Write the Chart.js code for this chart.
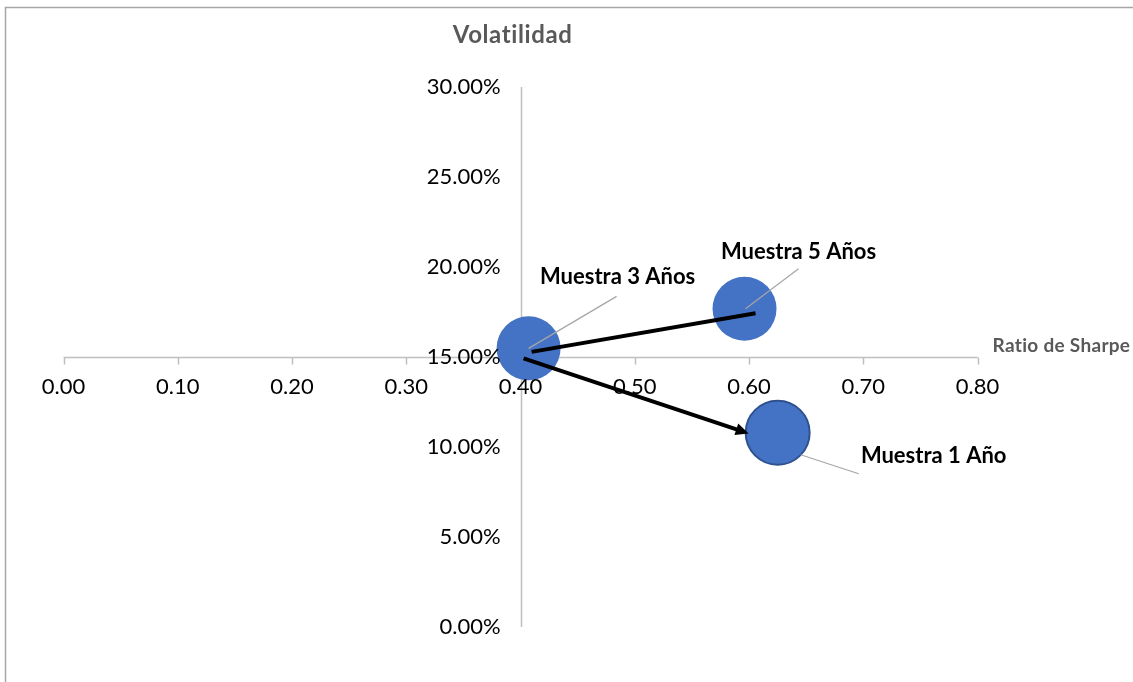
<!DOCTYPE html>
<html>
<head>
<meta charset="utf-8">
<script src="https://cdn.jsdelivr.net/npm/chart.js@4.4.1/dist/chart.umd.min.js"></script>
<style>
  html, body { margin: 0; padding: 0; background: #ffffff; }
  #wrap { width: 1133px; height: 682px; position: relative; }
</style>
</head>
<body>
<div id="wrap"><canvas id="chart" width="1133" height="682"></canvas></div>
<script>
// Samples: Sharpe ratio vs. volatility
const seriesNames = ['Muestra 3 Años', 'Muestra 5 Años', 'Muestra 1 Año'];
const sharpeRatio = [0.407, 0.596, 0.625];
const volatility = [0.1548, 0.1768, 0.1079];
const bubbleSize = [1, 1, 1];

const xTickValues = [0, 0.1, 0.2, 0.3, 0.4, 0.5, 0.6, 0.7, 0.8];
const xTickLabels = ['0.00', '0.10', '0.20', '0.30', '0.40', '0.50', '0.60', '0.70', '0.80'];
const yTickValues = [0, 0.05, 0.10, 0.15, 0.20, 0.25, 0.30];
const yTickLabels = ['0.00%', '5.00%', '10.00%', '15.00%', '20.00%', '25.00%', '30.00%'];

const xAxisTitle = 'Ratio de Sharpe';
const yAxisTitle = 'Volatilidad';
const xCrossAt = 0.15;   // horizontal axis crosses the vertical one at 15 %
const yCrossAt = 0.40;   // vertical axis crosses at a Sharpe ratio of 0.40

// Styling
const FONT = 'Lato, "Open Sans", sans-serif';
const BUBBLE_R = 32;
const BUBBLE_FILL = '#4472c4';
const AXIS_COLOR = '#bfbfbf';
const TITLE_COLOR = '#595959';

// Label placement (pixel offsets from each bubble centre)
const labelOffsets = [[89, -64], [54, -50], [156, 30]];
const leaderLines = [
  [[0, 0], [88, -52]],
  [[1, 0], [54, -40]],
  [[23, 22], [81, 41]]
];
// Arrows between samples: [fromIndex, fromOffset, toIndex, toOffset, arrowhead]
const arrows = [
  [0, [3, 3.5], 1, [11, 4.5], false],
  [0, [-5, 10], 2, [-29, 0.6], true]
];

const decorations = {
  id: 'decorations',
  beforeDraw(chart) {
    const ctx = chart.ctx;
    ctx.save();
    ctx.fillStyle = '#ffffff';
    ctx.fillRect(0, 0, chart.width, chart.height);
    ctx.strokeStyle = '#a6a6a6';
    ctx.lineWidth = 1.5;
    ctx.beginPath();
    ctx.moveTo(5.5, chart.height + 2);
    ctx.lineTo(5.5, 7.5);
    ctx.lineTo(chart.width + 2, 7.5);
    ctx.stroke();
    ctx.restore();
  },
  beforeDatasetsDraw(chart) {
    const ctx = chart.ctx;
    const xs = chart.scales.x, ys = chart.scales.y;
    const yLine = Math.round(ys.getPixelForValue(xCrossAt)) + 0.5;
    const xLine = Math.round(xs.getPixelForValue(yCrossAt)) + 0.5;
    ctx.save();
    ctx.strokeStyle = AXIS_COLOR;
    ctx.lineWidth = 1.5;
    ctx.beginPath();
    ctx.moveTo(xs.getPixelForValue(xs.min), yLine);
    ctx.lineTo(xs.getPixelForValue(xs.max), yLine);
    xTickValues.forEach(v => {
      const px = Math.round(xs.getPixelForValue(v)) + 0.5;
      ctx.moveTo(px, yLine);
      ctx.lineTo(px, yLine + 7);
    });
    ctx.moveTo(xLine, ys.getPixelForValue(ys.min));
    ctx.lineTo(xLine, ys.getPixelForValue(ys.max));
    ctx.stroke();
    ctx.restore();
  },
  afterDatasetsDraw(chart) {
    const ctx = chart.ctx;
    const xs = chart.scales.x, ys = chart.scales.y;
    const yLine = ys.getPixelForValue(xCrossAt);
    const xLine = xs.getPixelForValue(yCrossAt);
    const pts = chart.getDatasetMeta(0).data;
    ctx.save();

    // tick labels
    ctx.fillStyle = '#000000';
    ctx.font = '22px ' + FONT;
    ctx.textAlign = 'center';
    ctx.textBaseline = 'middle';
    xTickValues.forEach((v, i) => {
      ctx.fillText(xTickLabels[i], xs.getPixelForValue(v), yLine + 30);
    });
    ctx.textAlign = 'right';
    yTickValues.forEach((v, i) => {
      ctx.fillText(yTickLabels[i], xLine - 20, ys.getPixelForValue(v));
    });

    // axis titles (letter spacing also keeps "ti" from forming a ligature)
    ctx.fillStyle = TITLE_COLOR;
    ctx.textBaseline = 'alphabetic';
    ctx.textAlign = 'center';
    ctx.letterSpacing = '0.6px';
    ctx.font = 'bold 24px ' + FONT;
    ctx.fillText(yAxisTitle, xLine - 8, 43);
    ctx.textAlign = 'left';
    ctx.letterSpacing = '0.3px';
    ctx.font = 'bold 19px ' + FONT;
    ctx.fillText(xAxisTitle, xs.right + 15, yLine - 5);
    ctx.letterSpacing = '0px';

    // leader lines
    ctx.strokeStyle = '#a6a6a6';
    ctx.lineWidth = 1.2;
    leaderLines.forEach((seg, i) => {
      const p = pts[i];
      ctx.beginPath();
      ctx.moveTo(p.x + seg[0][0], p.y + seg[0][1]);
      ctx.lineTo(p.x + seg[1][0], p.y + seg[1][1]);
      ctx.stroke();
    });

    // data labels
    ctx.fillStyle = '#000000';
    ctx.textAlign = 'center';
    ctx.font = 'bold 22px ' + FONT;
    seriesNames.forEach((name, i) => {
      const p = pts[i];
      ctx.fillText(name, p.x + labelOffsets[i][0], p.y + labelOffsets[i][1]);
    });

    // arrows
    ctx.strokeStyle = '#000000';
    ctx.fillStyle = '#000000';
    ctx.lineWidth = 4;
    ctx.lineCap = 'butt';
    arrows.forEach(([a, ao, b, bo, head]) => {
      const x1 = pts[a].x + ao[0], y1 = pts[a].y + ao[1];
      const x2 = pts[b].x + bo[0], y2 = pts[b].y + bo[1];
      const ang = Math.atan2(y2 - y1, x2 - x1);
      const headLen = head ? 13 : 0;
      ctx.beginPath();
      ctx.moveTo(x1, y1);
      ctx.lineTo(x2 - headLen * 0.8 * Math.cos(ang), y2 - headLen * 0.8 * Math.sin(ang));
      ctx.stroke();
      if (head) {
        ctx.beginPath();
        ctx.moveTo(x2, y2);
        ctx.lineTo(x2 - headLen * Math.cos(ang) + 6 * Math.sin(ang), y2 - headLen * Math.sin(ang) - 6 * Math.cos(ang));
        ctx.lineTo(x2 - headLen * Math.cos(ang) - 6 * Math.sin(ang), y2 - headLen * Math.sin(ang) + 6 * Math.cos(ang));
        ctx.closePath();
        ctx.fill();
      }
    });
    ctx.restore();
  }
};

new Chart(document.getElementById('chart'), {
  type: 'bubble',
  data: {
    datasets: [{
      label: yAxisTitle,
      data: sharpeRatio.map((x, i) => ({ x: x, y: volatility[i], r: BUBBLE_R * Math.sqrt(bubbleSize[i]) })),
      backgroundColor: BUBBLE_FILL,
      borderColor: ['#4472c4', '#4472c4', '#2f528f'],
      borderWidth: [0, 0, 2],
      clip: false
    }]
  },
  options: {
    responsive: false,
    devicePixelRatio: 1,
    animation: false,
    events: [],
    layout: { padding: { left: 63.6, right: 155.4, top: 87, bottom: 55 } },
    scales: {
      x: { type: 'linear', min: 0, max: 0.8, display: false },
      y: { type: 'linear', min: 0, max: 0.3, display: false }
    },
    plugins: {
      legend: { display: false },
      tooltip: { enabled: false },
      title: { display: false }
    }
  },
  plugins: [decorations]
});
</script>
</body>
</html>
